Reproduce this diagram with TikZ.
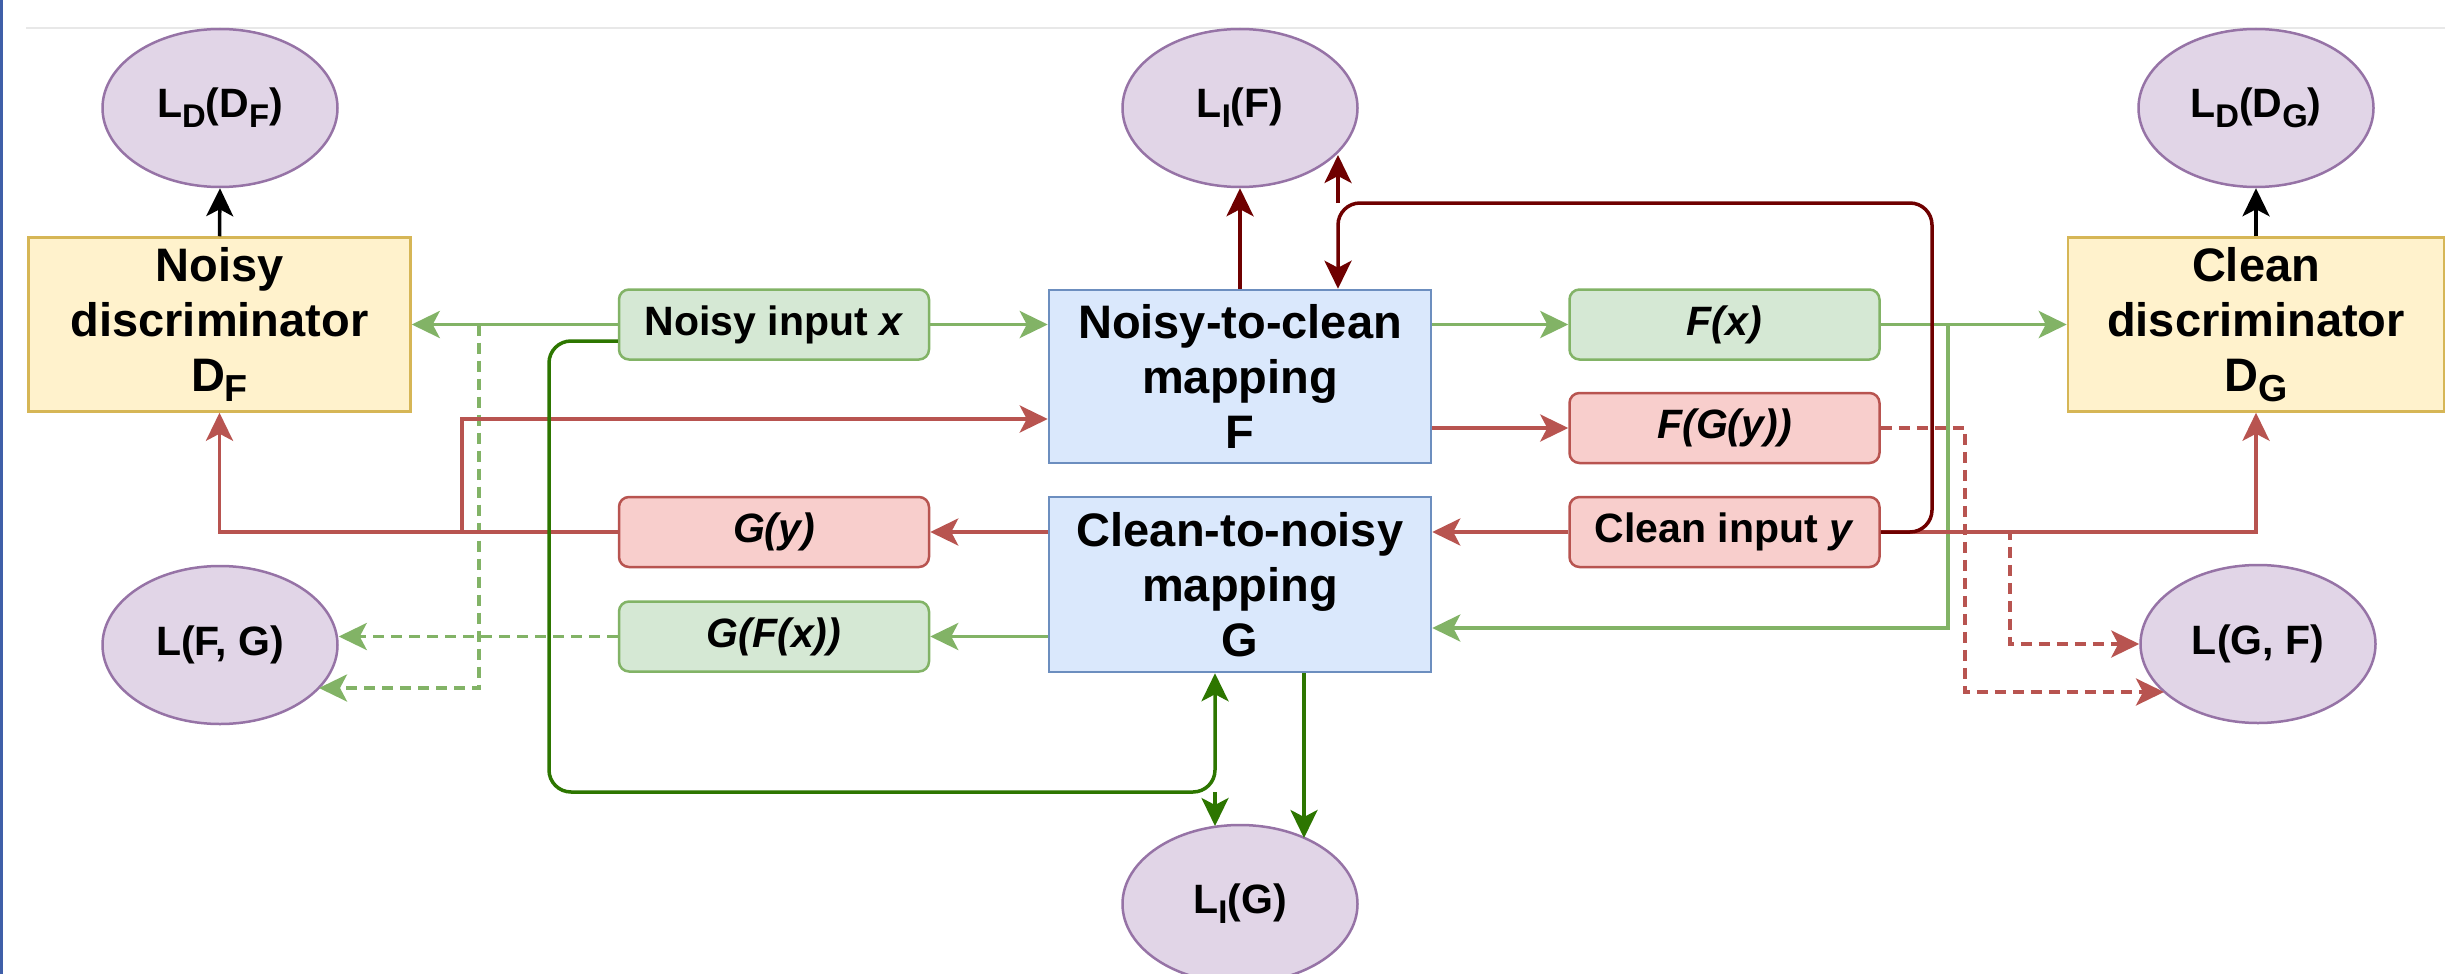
\documentclass[tikz,border=0pt]{standalone}
\usepackage{fontspec}
\setmainfont{Liberation Sans}
\usetikzlibrary{arrows.meta,shapes.geometric,calc}
\definecolor{gfill}{HTML}{D5E8D4}
\definecolor{lgline}{HTML}{82B366}
\definecolor{rfill}{HTML}{F8CECC}
\definecolor{rdline}{HTML}{B85450}
\definecolor{bfill}{HTML}{DAE8FC}
\definecolor{bline}{HTML}{6C8EBF}
\definecolor{yfill}{HTML}{FFF2CC}
\definecolor{yline}{HTML}{D6B656}
\definecolor{pfill}{HTML}{E1D5E7}
\definecolor{pline}{HTML}{9673A6}
\definecolor{darkred}{HTML}{6F0000}
\definecolor{darkgreen}{HTML}{2D7600}
\definecolor{frameblue}{HTML}{3F5FA8}
\definecolor{topgray}{HTML}{E8E8E8}
\newcommand{\mysub}[1]{\raisebox{-10pt}{\scalebox{0.8}{#1}}}
\begin{document}
\begin{tikzpicture}[x=1pt,y=-1pt,
 atip/.style={-{Stealth[length=28pt,width=27pt,inset=7pt]}},
 lgc/.style={draw=lgline, line width=3.5pt, atip},
 rdc/.style={draw=rdline, line width=3.5pt, atip},
 drc/.style={draw=darkred, line width=3.5pt, atip},
 dgc/.style={draw=darkgreen, line width=3.5pt, atip},
 blc/.style={draw=black, line width=3.5pt, atip},
 dsh/.style={dash pattern=on 11pt off 7pt},
 bigbox/.style={rectangle, line width=2.5pt, minimum width=382pt, minimum height=174pt, align=center, inner sep=0pt, font=\fontsize{47}{55}\selectfont\bfseries},
 discbox/.style={bigbox, draw=yline, fill=yfill},
 mapbox/.style={bigbox, draw=bline, fill=bfill},
 sbox/.style={rectangle, rounded corners=10pt, line width=2.5pt, minimum width=310pt, minimum height=70pt, inner sep=0pt, font=\fontsize{41}{48}\selectfont\bfseries},
 gbox/.style={sbox, draw=lgline, fill=gfill},
 rbox/.style={sbox, draw=rdline, fill=rfill},
 lossnode/.style={ellipse, draw=pline, fill=pfill, line width=2.5pt, minimum width=235pt, minimum height=158pt, inner sep=0pt, font=\fontsize{41}{48}\selectfont\bfseries}]
\useasboundingbox (0,0) rectangle (2445,974);
\fill[white] (0,0) rectangle (2445,974);
\draw[topgray, line width=1.5pt] (26,28) -- (2445,28);
\draw[frameblue, line width=3pt] (1.5,0) -- (1.5,974);

% boxes
\node[discbox] (DF) at (219.5,324.5) {Noisy\\discriminator\\D\mysub{F}};
\node[discbox, minimum width=376pt] (DG) at (2256,324.5) {Clean\\discriminator\\D\mysub{G}};
\node[mapbox, minimum height=173pt] (F) at (1240,376.5) {Noisy-to-clean\\mapping\\F};
\node[mapbox, minimum height=175pt] (G) at (1240,584.5) {Clean-to-noisy\\mapping\\G};
\node[gbox] (NI) at (774,324.5) {Noisy input \textit{x}};
\node[gbox] (Fx) at (1724.5,324.5) {\textit{F(x)}};
\node[rbox] (FGy) at (1724.5,428) {\textit{F(G(y))}};
\node[rbox] (Gy) at (774,532) {\textit{G(y)}};
\node[rbox] (CI) at (1724.5,532) {Clean input \textit{y}};
\node[gbox] (GFx) at (774,636.5) {\textit{G(F(x))}};

% losses
\node[lossnode] (LDF) at (220,108) {L\mysub{D}(D\mysub{F})};
\node[lossnode] (LIF) at (1240,108) {L\mysub{I}(F)};
\node[lossnode] (LDG) at (2256,108) {L\mysub{D}(D\mysub{G})};
\node[lossnode] (LFG) at (220,645) {L(F, G)};
\node[lossnode] (LGF) at (2258,644) {L(G, F)};
\node[lossnode] (LIG) at (1240,904) {L\mysub{I}(G)};

% helper coordinates
\coordinate (h341) at (0,341);
\coordinate (h419) at (0,419);
\coordinate (h628) at (0,628);
\coordinate (fxd) at (1948,324.5);
\coordinate (nid) at (479,324.5);
\coordinate (nidb) at (479,688);
\coordinate (lfgb) at (319,688);
\coordinate (gyj) at (462,532);
\coordinate (gyk) at (462,419);
\coordinate (fga) at (1965,428);
\coordinate (fgb) at (1965,692);
\coordinate (lgfb) at (2164,692);
\coordinate (cia) at (2010,532);
\coordinate (cib) at (2010,644);
\coordinate (jr) at (1338,203);
\coordinate (jra) at (1932,532);
\coordinate (jrb) at (1932,203);
\coordinate (lifb) at (1338,155);
\coordinate (jg) at (1215,792);
\coordinate (jga) at (549,341);
\coordinate (jgb) at (549,792);
\coordinate (ligb) at (1215,826);
\coordinate (gs2) at (1304,0);
\coordinate (ligc) at (1304,838);

% black
\draw[blc] (DF.north) -- (LDF.south);
\draw[blc] (DG.north) -- (LDG.south);

% light green
\draw[lgc] (NI.west) -- (DF.east);
\draw[lgc] (NI.east) -- (F.west |- NI.east);
\draw[lgc] (F.east |- Fx.west) -- (Fx.west);
\draw[lgc] (Fx.east) -- (DG.west |- Fx.east);
\draw[lgc] (Fx.east) -- (fxd) -- (fxd |- h628) -- (G.east |- h628);
\draw[lgc] (G.west |- GFx.east) -- (GFx.east);
\draw[lgc,dsh] (GFx.west) -- (LFG.east |- GFx.west);
\draw[lgc,dsh] (nid) -- (nidb) -- (lfgb);

% red
\draw[rdc] (CI.west) -- (G.east |- CI.west);
\draw[rdc] (CI.east) -- (DG.south |- CI.east) -- (DG.south);
\draw[rdc] (G.west |- Gy.east) -- (Gy.east);
\draw[rdc] (Gy.west) -- (DF.south |- Gy.west) -- (DF.south);
\draw[rdc] (Gy.west) -- (gyj) -- (gyk) -- (F.west |- h419);
\draw[rdc] (F.east |- FGy.west) -- (FGy.west);
\draw[rdc,dsh] (FGy.east) -- (fga) -- (fgb) -- (lgfb);
\draw[rdc,dsh] (CI.east) -- (cia) -- (cib) -- (LGF.west);

% dark red
\draw[drc] (F.north) -- (LIF.south);
\draw[drc, rounded corners=22pt] (CI.east) -- (jra) -- (jrb) -- (jr) -- (F.north -| jr);
\draw[drc] (jr) -- (lifb);

% dark green
\draw[dgc, rounded corners=22pt] (NI.west |- h341) -- (jga) -- (jgb) -- (jg) -- (G.south -| jg);
\draw[dgc] (jg) -- (ligb);
\draw[dgc] (G.south -| gs2) -- (ligc);
\end{tikzpicture}
\end{document}
